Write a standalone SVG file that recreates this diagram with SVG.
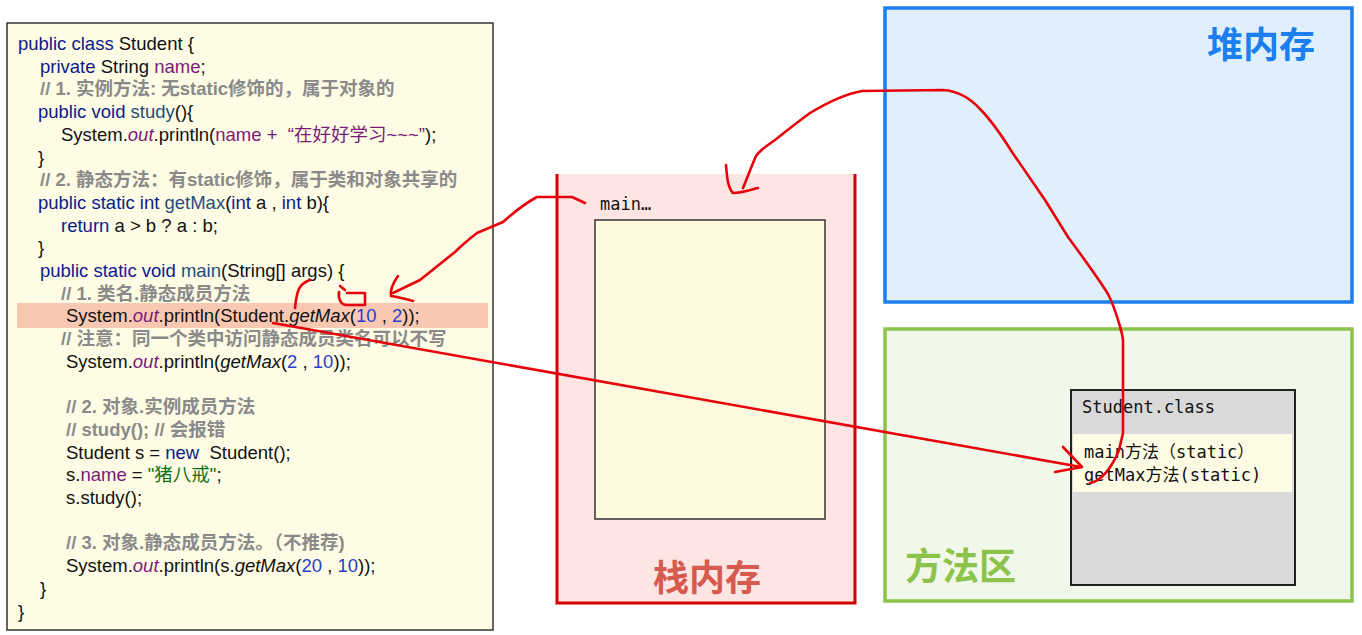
<svg xmlns="http://www.w3.org/2000/svg" width="1362" height="635" viewBox="0 0 1362 635">
<defs>
<style>
.code{font-family:"Liberation Sans","Noto Sans CJK SC",sans-serif;font-size:18.5px;fill:#111}
.k{fill:#0d1a8c}
.m{fill:#1f4e79}
.p{fill:#7a1a7a}
.n{fill:#2a3fc8}
.s{fill:#107010}
.c{fill:#8a8a8a;font-weight:bold}
.i{font-style:italic}
.mono{font-family:"DejaVu Sans Mono","Noto Sans CJK SC",monospace;font-size:17px;fill:#111}
.big{font-family:"Noto Sans CJK SC",sans-serif;font-weight:bold;font-size:36px}
.ink{fill:none;stroke:#e8000b;stroke-width:2.6;stroke-linecap:round;stroke-linejoin:round}
</style>
</defs>
<rect width="1362" height="635" fill="#ffffff"/>

<g id="code">
<rect x="7" y="23" width="486" height="607" fill="#fefce4" stroke="#333" stroke-width="1.5"/>
<rect x="17" y="303" width="471" height="25" fill="#f8c8b3"/>
<g class="code">
<text x="18" y="50"><tspan class="k">public class</tspan> Student {</text>
<text x="40" y="72.7"><tspan class="k">private</tspan> String <tspan class="p">name</tspan>;</text>
<text x="40" y="95.4" class="c">// 1. 实例方法: 无static修饰的，属于对象的</text>
<text x="38" y="118.1"><tspan class="k">public void</tspan> <tspan class="m">study</tspan>(){</text>
<text x="61" y="140.8">System.<tspan class="p i">out</tspan>.println(<tspan class="p">name +&#160; “在好好学习~~~”</tspan>);</text>
<text x="38" y="163.5">}</text>
<text x="40" y="186.2" class="c">// 2. 静态方法：有static修饰，属于类和对象共享的</text>
<text x="38" y="208.9"><tspan class="k">public static int</tspan> <tspan class="m">getMax</tspan>(<tspan class="k">int</tspan> a , <tspan class="k">int</tspan> b){</text>
<text x="61" y="231.6"><tspan class="k">return</tspan> a &gt; b ? a : b;</text>
<text x="38" y="254.3">}</text>
<text x="40" y="277"><tspan class="k">public static void</tspan> <tspan class="m">main</tspan>(String[] args) {</text>
<text x="61" y="299.7" class="c">// 1. 类名.静态成员方法</text>
<text x="66" y="322.4">System.<tspan class="p i">out</tspan>.println(Student.<tspan class="i">getMax</tspan>(<tspan class="n">10</tspan> , <tspan class="n">2</tspan>));</text>
<text x="61" y="345.1" class="c">// 注意：同一个类中访问静态成员类名可以不写</text>
<text x="66" y="367.8">System.<tspan class="p i">out</tspan>.println(<tspan class="i">getMax</tspan>(<tspan class="n">2</tspan> , <tspan class="n">10</tspan>));</text>
<text x="66" y="413.2" class="c">// 2. 对象.实例成员方法</text>
<text x="66" y="435.9" class="c">// study(); // 会报错</text>
<text x="66" y="458.6">Student s = <tspan class="k">new</tspan>&#160; Student();</text>
<text x="66" y="481.3">s.<tspan class="p">name</tspan> = <tspan class="s">"猪八戒"</tspan>;</text>
<text x="66" y="504">s.study();</text>
<text x="66" y="549.4" class="c">// 3. 对象.静态成员方法。（不推荐)</text>
<text x="66" y="572.1">System.<tspan class="p i">out</tspan>.println(s.<tspan class="i">getMax</tspan>(<tspan class="n">20</tspan> , <tspan class="n">10</tspan>));</text>
<text x="40" y="594.8">}</text>
<text x="18" y="617.5">}</text>
</g>
</g>

<g id="stack">
<rect x="557" y="174" width="298" height="429" fill="#fde5e3"/>
<path d="M557,174 V603 H855 V174" fill="none" stroke="#d40000" stroke-width="3"/>
<rect x="595" y="220" width="230" height="299" fill="#fef9df" stroke="#333" stroke-width="1.5"/>
<text x="600" y="210" class="mono">main…</text>
<text x="653" y="591" class="big" fill="#d65a4e">栈内存</text>
</g>

<g id="heap">
<rect x="885" y="8" width="467" height="294" fill="#dfeffc" stroke="#1b7ff0" stroke-width="3.5"/>
<text x="1207" y="58" class="big" fill="#1b7ff0">堆内存</text>
</g>

<g id="method-area">
<rect x="885" y="329" width="467" height="272" fill="#f1f8ea" stroke="#8cc34b" stroke-width="3.5"/>
<text x="905" y="580" class="big" fill="#8cc34b" style="font-size:37px">方法区</text>
</g>

<g id="student-class">
<rect x="1071" y="390" width="224" height="195" fill="#d9d9d9" stroke="#222" stroke-width="2"/>
<rect x="1073" y="434" width="219" height="58" fill="#fefbe4"/>
<text x="1082" y="413" class="mono">Student.class</text>
<text x="1084" y="458" class="mono">main方法（static）</text>
<text x="1084" y="481" class="mono">getMax方法(static)</text>
</g>

<g id="connectors">
<path class="ink" d="M1090,483 C1100,482 1112,468 1119,450 L1123,433 L1123,340 C1122,332 1120,326 1118,320 C1115,310 1112,302 1108,294 C1098,278 1082,256 1068,237 L1045,200 L1012,152 C1002,136 992,121 980,109 C970,98 958,91 943,90 L862,91 C845,94 825,104 810,113 C795,124 785,132 775,140 C765,147 760,150 756,156 C752,165 748,176 743,188"/>
<path class="ink" d="M726,165 C727,178 728,188 733,193 C742,193 750,190 758,188"/>
<path class="ink" d="M585,203 L572,197 L537,197 C522,205 512,214 503,222 L477,233 C468,240 462,245 455,252 L420,280 L393,293"/>
<path class="ink" d="M398,276 C393,283 390,290 391,296 C398,297 406,299 413,301"/>
<path class="ink" d="M295,308 C296,298 298,290 300,287 C303,283 307,281 310,280"/>
<path class="ink" d="M340,286 L345,290 M339,292 C338,299 341,305 347,305 L365,305 L365,293 L347,293"/>
<path class="ink" d="M273,323 L1081,467"/>
<path class="ink" d="M1063,447 L1082,467 L1055,472"/>
</g>
</svg>
